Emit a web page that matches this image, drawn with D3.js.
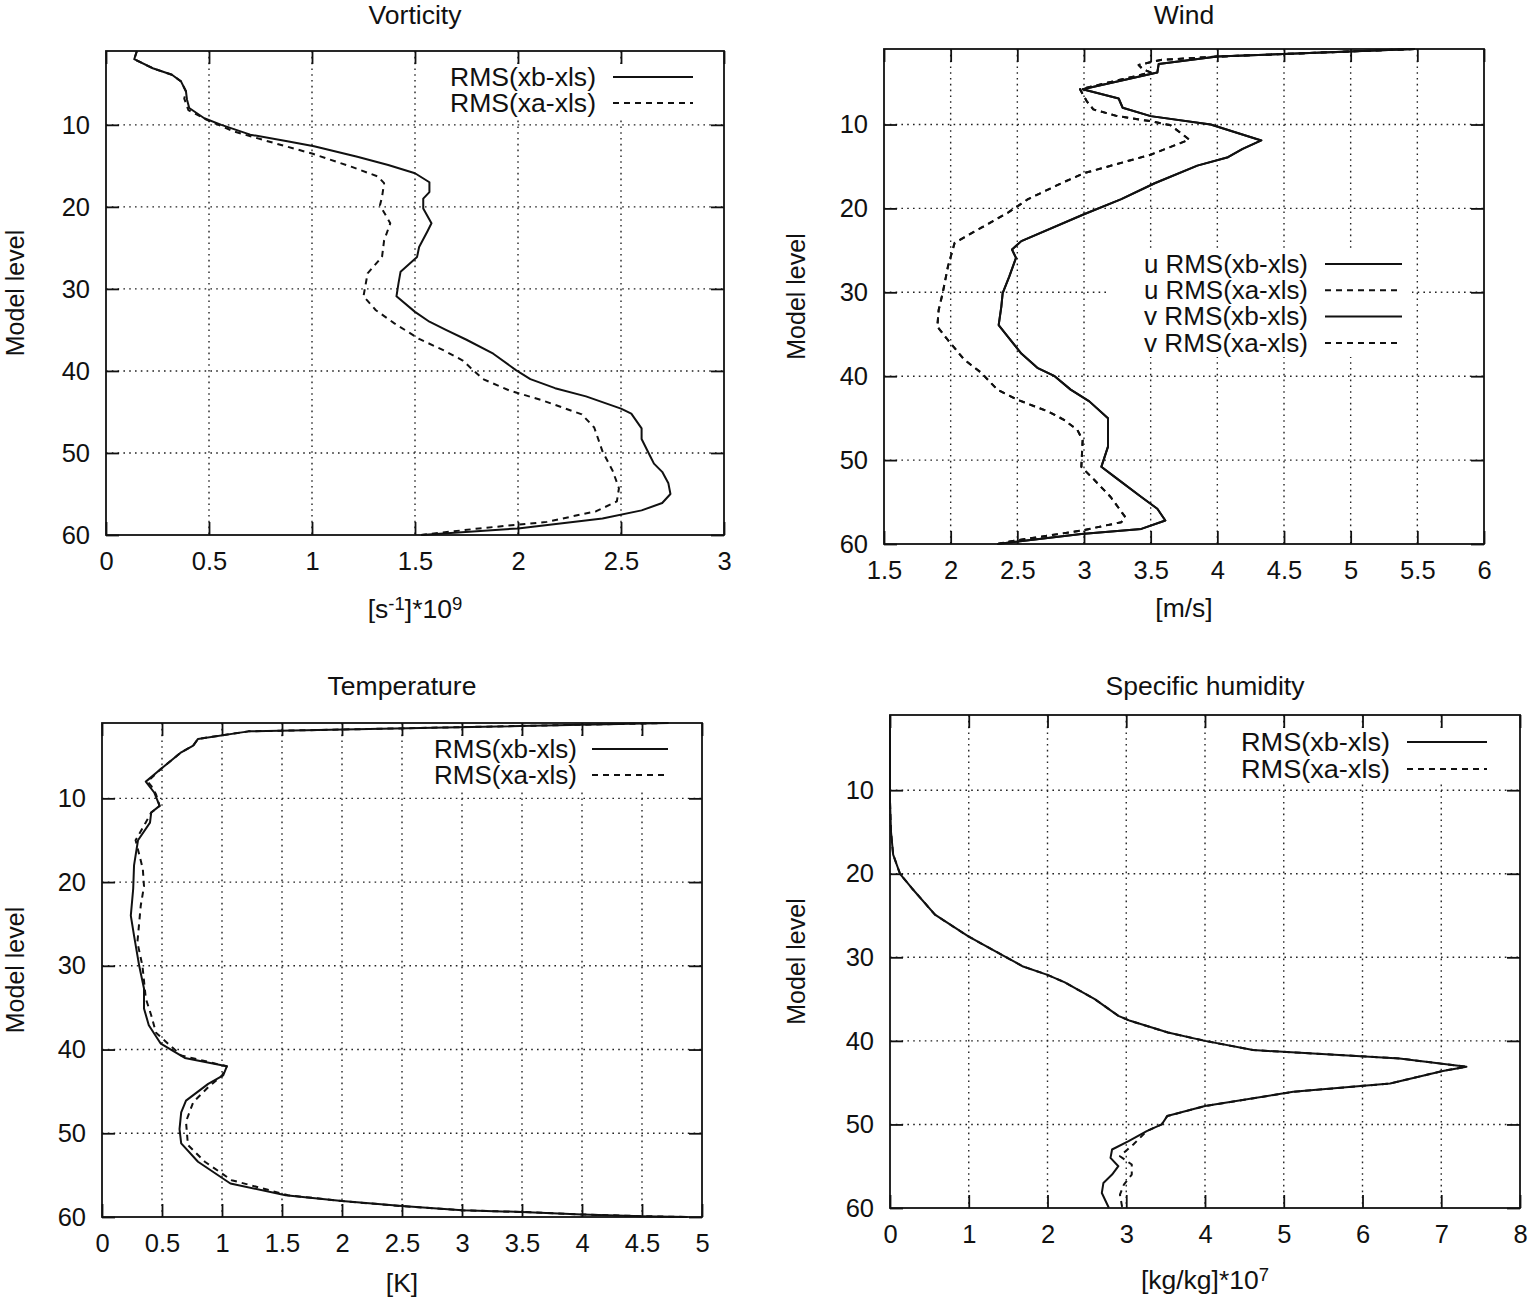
<!DOCTYPE html>
<html>
<head>
<meta charset="utf-8">
<script src="https://cdn.jsdelivr.net/npm/d3@7"></script>
<style>
  body { margin: 0; background: #fff; }
  text { font-family: "Liberation Sans", Arial, sans-serif; fill: #111; }
</style>
</head>
<body>
<div id="body"></div>
<script>
//DATA  -- [model level, value] pairs
var vortXb = [[1,0.15],[2,0.137],[3.1,0.227],[3.9,0.32],[4.7,0.364],[5.9,0.388],[6.9,0.393],[7.95,0.404],[9.2,0.477],[10,0.56],[11.2,0.70],[12,0.88],[12.6,1.01],[13.9,1.22],[14.9,1.37],[15.9,1.50],[17,1.57],[18.2,1.57],[19,1.54],[20.2,1.54],[22,1.58],[23,1.56],[24.9,1.52],[26.1,1.51],[27.9,1.43],[29.3,1.42],[30.9,1.41],[32.8,1.50],[34,1.57],[35,1.65],[36.2,1.75],[37.9,1.88],[39.9,1.99],[41,2.06],[42.1,2.18],[43.1,2.33],[44.6,2.50],[45.2,2.55],[47,2.60],[48.3,2.60],[50.3,2.64],[51.3,2.66],[52.3,2.70],[53.7,2.73],[55,2.74],[56.1,2.70],[57,2.60],[58,2.41],[59.2,2.0],[60,1.53]];
var vortXa = [[1,0.15],[2,0.137],[3.1,0.227],[3.9,0.32],[4.7,0.364],[5.9,0.388],[6.8,0.38],[8.2,0.40],[9.4,0.49],[10.8,0.62],[12,0.785],[13.5,1.0],[15.1,1.19],[16.3,1.32],[17.1,1.35],[18.8,1.34],[19.8,1.33],[22,1.38],[24.1,1.35],[26.1,1.34],[28.1,1.27],[30.9,1.25],[32.6,1.31],[34.2,1.40],[36.1,1.52],[37.5,1.64],[38.7,1.73],[41,1.83],[42.4,1.96],[43.6,2.12],[45.3,2.31],[46.9,2.37],[49.8,2.41],[52.2,2.46],[54.3,2.49],[55.9,2.48],[57.1,2.38],[58.4,2.14],[59.2,1.81],[60,1.53]];

var windUXb = [[1,5.48],[1.9,4.0],[2.8,3.56],[3.8,3.55],[5.8,2.99],[6.9,3.26],[8.0,3.29],[9.0,3.5],[10,3.95],[11.9,4.33],[12.9,4.19],[13.9,4.08],[14.9,3.85],[17,3.53],[18.9,3.28],[20.7,3.0],[23.9,2.53],[24.9,2.46],[25.9,2.49],[28.1,2.44],[30.1,2.39],[31.7,2.38],[33.9,2.36],[35.3,2.43],[37.3,2.53],[39,2.65],[40,2.78],[41.6,2.9],[43,3.04],[45,3.18],[48.4,3.18],[50.8,3.13],[52,3.23],[54.4,3.43],[55.8,3.55],[57.2,3.61],[58.2,3.43],[58.8,2.98],[60,2.35]];
var windUXa = [[1,5.48],[1.9,4.0],[2.3,3.575],[2.9,3.41],[3.4,3.44],[3.8,3.5],[5.8,2.97],[7.2,3.02],[8.2,3.07],[9.0,3.25],[9.6,3.5],[10.1,3.65],[11.8,3.79],[13.6,3.5],[15.8,3.0],[17,2.83],[18.9,2.58],[20.5,2.43],[22.3,2.23],[24.1,2.03],[26.9,1.98],[30.1,1.94],[32.1,1.91],[34.1,1.90],[35.7,1.98],[38,2.1],[39.6,2.23],[41.6,2.35],[42.8,2.5],[44.2,2.73],[45.2,2.85],[46.4,2.95],[47.6,2.99],[50.8,2.98],[52.4,3.08],[54.4,3.2],[56.8,3.31],[57.4,3.28],[58.4,2.98],[59.6,2.48],[60,2.35]];
// v curves lie exactly on top of the u curves in the figure
var windVXb = windUXb;
var windVXa = windUXa;

var tempXb = [[1,4.72],[2,1.22],[2.9,0.80],[3.7,0.76],[4.5,0.66],[6.5,0.49],[8.0,0.365],[9.3,0.435],[10.9,0.48],[11.7,0.41],[12.9,0.40],[15,0.30],[18,0.267],[20.8,0.26],[24,0.24],[26.4,0.267],[30,0.31],[32.7,0.35],[35.1,0.35],[37.1,0.39],[39.3,0.49],[41,0.69],[42,1.04],[43.1,1.01],[44.1,0.885],[46.1,0.70],[47.5,0.66],[49.5,0.646],[51.2,0.66],[53.4,0.80],[56,1.07],[57.4,1.53],[58.1,2.0],[58.7,2.5],[59.2,3.0],[59.4,3.5],[59.7,4.0],[59.9,4.5],[60,4.88]];
var tempXa = [[1,4.72],[2,1.22],[2.9,0.80],[3.7,0.76],[4.5,0.66],[6.5,0.49],[8.0,0.38],[8.5,0.41],[9.5,0.45],[10.9,0.48],[11.7,0.41],[13,0.36],[15,0.28],[18.4,0.34],[20.5,0.35],[22.8,0.323],[27.2,0.295],[30,0.337],[33.9,0.365],[35.9,0.41],[38,0.45],[40.7,0.66],[42,1.04],[43.1,1.0],[44.5,0.885],[46.3,0.76],[48.6,0.70],[51.4,0.716],[53.4,0.857],[55.6,1.08],[57.4,1.55],[58.1,2.0],[58.7,2.5],[59.2,3.0],[59.4,3.5],[59.7,4.0],[59.9,4.5],[60,4.88]];

var humXb = [[1,0],[11.4,0],[15,0.013],[17.7,0.04],[20,0.127],[21.7,0.275],[24.9,0.571],[27.5,0.995],[29.7,1.42],[31.1,1.69],[32.1,2.0],[33,2.22],[35,2.60],[37,2.90],[37.6,3.05],[39,3.53],[40,4.0],[41.1,4.61],[42.1,6.47],[43.1,7.32],[43.6,7.02],[45.1,6.35],[46.1,5.12],[47.8,4.0],[49,3.52],[50,3.45],[50.8,3.26],[52,3.03],[53,2.82],[54,2.80],[55,2.9],[56,2.82],[57,2.71],[58.2,2.69],[60,2.78]];
var humXa = [[1,0],[11.4,0],[15,0.013],[17.7,0.04],[20,0.127],[21.7,0.275],[24.9,0.571],[27.5,0.995],[29.7,1.42],[31.1,1.69],[32.1,2.0],[33,2.22],[35,2.60],[37,2.90],[37.6,3.05],[39,3.53],[40,4.0],[41.1,4.61],[42.1,6.47],[43.1,7.32],[43.6,7.02],[45.1,6.35],[46.1,5.12],[47.8,4.0],[49,3.52],[50,3.45],[50.8,3.26],[52.4,3.09],[53.8,2.92],[54.8,3.07],[56,3.07],[57.2,2.97],[58.4,2.92],[60,2.95]];

//TICKS
var levelTicks = [10, 20, 30, 40, 50, 60];
var vortTicks = [0, 0.5, 1, 1.5, 2, 2.5, 3];
var windTicks = [1.5, 2, 2.5, 3, 3.5, 4, 4.5, 5, 5.5, 6];
var tempTicks = [0, 0.5, 1, 1.5, 2, 2.5, 3, 3.5, 4, 4.5, 5];
var humTicks = [0, 1, 2, 3, 4, 5, 6, 7, 8];

var width = 1531;
var height = 1297;
var FS = 25.5;    // tick font size
var TFS = 26.5;   // title / x label font size
var KFS = 25;     // key and y label font size
var TICK = 13;    // inward tick length
var DASH = "6,5";

var svg = d3.select("#body").append("svg")
  .attr("width", width)
  .attr("height", height);

svg.append("rect").attr("width", width).attr("height", height).attr("fill", "#fff");

var fmt = function(d){ return String(d); };

function panel(p){
  var g = svg.append("g");
  var x = d3.scaleLinear().domain([p.ticks[0], p.ticks[p.ticks.length-1]]).range([p.left, p.right]);
  var y = d3.scaleLinear().domain([1, 60]).range([p.top, p.bottom]);

  //grid
  var grid = g.append("g").attr("stroke", "#222").attr("stroke-width", 1.4).attr("stroke-dasharray", "1.6,4.2");
  grid.selectAll("line.v").data(p.ticks.slice(1, -1)).enter().append("line")
    .attr("x1", x).attr("x2", x).attr("y1", p.top).attr("y2", p.bottom);
  grid.selectAll("line.h").data(levelTicks.slice(0, -1)).enter().append("line")
    .attr("y1", y).attr("y2", y).attr("x1", p.left).attr("x2", p.right);

  //key background
  var kb = p.key.box;
  g.append("rect").attr("x", kb[0]).attr("y", kb[1]).attr("width", kb[2]-kb[0]).attr("height", kb[3]-kb[1]).attr("fill", "#fff");

  //curves
  var line = d3.line().x(function(d){ return x(d[1]); }).y(function(d){ return y(d[0]); });
  p.series.forEach(function(s){
    g.append("path").datum(s.data)
      .attr("d", line)
      .attr("fill", "none")
      .attr("stroke", "#111")
      .attr("stroke-width", 2)
      .attr("stroke-linejoin", "round")
      .attr("stroke-dasharray", s.dashed ? DASH : null);
  });

  //axes with inward ticks
  function style(ax){
    ax.attr("font-size", FS).attr("font-family", "Liberation Sans, Arial, sans-serif");
    ax.select(".domain").remove();
    ax.selectAll("line").attr("stroke", "#111").attr("stroke-width", 1.8);
    ax.selectAll("text").attr("fill", "#111");
  }
  g.append("g").attr("transform", "translate(0," + p.bottom + ")")
    .call(d3.axisBottom(x).tickValues(p.ticks).tickSize(-TICK).tickSizeOuter(0).tickPadding(17).tickFormat(fmt)).call(style);
  g.append("g").attr("transform", "translate(0," + p.top + ")")
    .call(d3.axisTop(x).tickValues(p.ticks).tickSize(-TICK).tickSizeOuter(0).tickFormat("")).call(style);
  g.append("g").attr("transform", "translate(" + p.left + ",0)")
    .call(d3.axisLeft(y).tickValues(levelTicks).tickSize(-TICK).tickSizeOuter(0).tickPadding(16).tickFormat(fmt)).call(style);
  g.append("g").attr("transform", "translate(" + p.right + ",0)")
    .call(d3.axisRight(y).tickValues(levelTicks).tickSize(-TICK).tickSizeOuter(0).tickFormat("")).call(style);

  //frame
  g.append("rect").attr("x", p.left).attr("y", p.top)
    .attr("width", p.right - p.left).attr("height", p.bottom - p.top)
    .attr("fill", "none").attr("stroke", "#111").attr("stroke-width", 1.8);

  //key
  p.series.forEach(function(s, i){
    var ky = p.key.y + i * p.key.dy;
    g.append("text").attr("x", p.key.textX).attr("y", ky).attr("dy", "0.35em")
      .attr("text-anchor", "end").attr("font-size", KFS).attr("textLength", p.key.textW)
      .attr("lengthAdjust", "spacingAndGlyphs").text(s.name);
    g.append("line").attr("x1", p.key.x1).attr("x2", p.key.x2).attr("y1", ky).attr("y2", ky)
      .attr("stroke", "#111").attr("stroke-width", 2)
      .attr("stroke-dasharray", s.dashed ? DASH : null);
  });

  //title
  var cx = (p.left + p.right) / 2;
  g.append("text").attr("x", cx).attr("y", p.titleY).attr("text-anchor", "middle")
    .attr("font-size", TFS).text(p.title);

  //y label
  g.append("text").attr("transform", "translate(" + p.ylabelX + "," + ((p.top + p.bottom) / 2) + ") rotate(-90)")
    .attr("dy", "0.35em").attr("text-anchor", "middle").attr("font-size", KFS).text("Model level");

  //x label
  var xl = g.append("text").attr("x", cx).attr("y", p.bottom + p.xlabelDy).attr("text-anchor", "middle").attr("font-size", TFS);
  p.xlabel.forEach(function(part){
    var t = xl.append("tspan").text(part[0]);
    if (part[1]) t.attr("font-size", TFS * 0.7).attr("baseline-shift", "42%");
  });
}

panel({
  title: "Vorticity", titleY: 24, left: 106, right: 724, top: 51, bottom: 535,
  ticks: vortTicks, ylabelX: 15, xlabelDy: 83,
  xlabel: [["[s"], ["-1", true], ["]*10"], ["9", true]],
  series: [{name: "RMS(xb-xls)", data: vortXb}, {name: "RMS(xa-xls)", data: vortXa, dashed: true}],
  key: {textX: 596, textW: 146, x1: 613, x2: 693, y: 77, dy: 26, box: [440, 64, 702, 118]}
});

panel({
  title: "Wind", titleY: 24, left: 884, right: 1484, top: 49, bottom: 544,
  ticks: windTicks, ylabelX: 796, xlabelDy: 73,
  xlabel: [["[m/s]"]],
  series: [
    {name: "u RMS(xb-xls)", data: windUXb},
    {name: "u RMS(xa-xls)", data: windUXa, dashed: true},
    {name: "v RMS(xb-xls)", data: windVXb},
    {name: "v RMS(xa-xls)", data: windVXa, dashed: true}
  ],
  key: {textX: 1308, textW: 164, x1: 1325, x2: 1402, y: 264, dy: 26.3, box: [1110, 252, 1412, 357]}
});

panel({
  title: "Temperature", titleY: 695, left: 102, right: 702, top: 723, bottom: 1217,
  ticks: tempTicks, ylabelX: 15, xlabelDy: 75,
  xlabel: [["[K]"]],
  series: [{name: "RMS(xb-xls)", data: tempXb}, {name: "RMS(xa-xls)", data: tempXa, dashed: true}],
  key: {textX: 577, textW: 143, x1: 592, x2: 668, y: 749, dy: 26, box: [425, 736, 678, 790]}
});

panel({
  title: "Specific humidity", titleY: 695, left: 890, right: 1520, top: 715, bottom: 1208,
  ticks: humTicks, ylabelX: 796, xlabelDy: 81,
  xlabel: [["[kg/kg]*10"], ["7", true]],
  series: [{name: "RMS(xb-xls)", data: humXb}, {name: "RMS(xa-xls)", data: humXa, dashed: true}],
  key: {textX: 1390, textW: 149, x1: 1407, x2: 1487, y: 742, dy: 27, box: [1232, 728, 1497, 784]}
});
</script>
</body>
</html>
